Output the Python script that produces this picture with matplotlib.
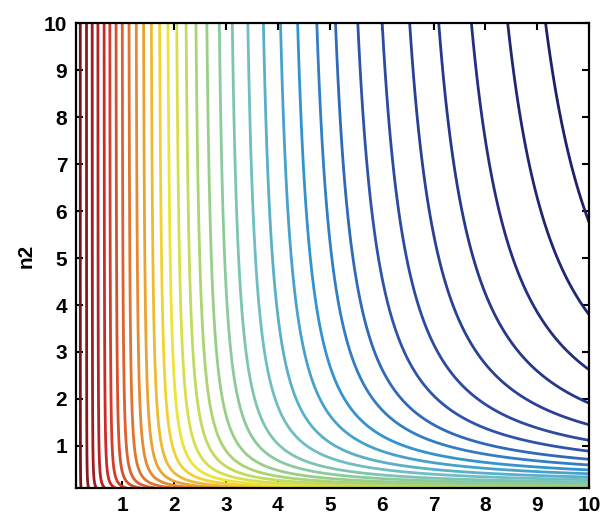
import numpy as np
import matplotlib
matplotlib.use("Agg")
import matplotlib.pyplot as plt
from matplotlib.colors import LinearSegmentedColormap

# ---- data ----
n1_range = [0.1, 10.0]
n2_range = [0.1, 10.0]
# n1 position where each contour line meets the top edge (n2 = 10)
top_positions = [0.19, 0.31, 0.42, 0.53, 0.65, 0.76, 0.88, 1.00, 1.13, 1.27,
                 1.41, 1.56, 1.72, 1.88, 2.05, 2.23, 2.42, 2.63, 2.87, 3.12,
                 3.42, 3.72, 4.05, 4.38, 4.75, 5.11, 5.54, 6.01, 6.54, 7.10,
                 7.73, 8.43, 9.16]
b_coef = 10.58
p_exp = 0.64
xticks = [1, 2, 3, 4, 5, 6, 7, 8, 9, 10]
yticks = [1, 2, 3, 4, 5, 6, 7, 8, 9, 10]
ylabel = "n2"

# colour ramp (muted jet, from first/left line to last/right line)
anchors = [(0.0, (0.45, 0.08, 0.10)),
           (0.12, (0.80, 0.15, 0.15)),
           (0.27, (0.90, 0.50, 0.20)),
           (0.40, (0.95, 0.90, 0.20)),
           (0.52, (0.62, 0.82, 0.50)),
           (0.62, (0.45, 0.76, 0.76)),
           (0.72, (0.20, 0.58, 0.82)),
           (0.82, (0.18, 0.32, 0.66)),
           (1.0, (0.12, 0.12, 0.42))]
cmap = LinearSegmentedColormap.from_list("mjet", anchors)
line_colors = [cmap(i / (len(top_positions) - 1)) for i in range(len(top_positions))]


def surface(a, b):
    return 1.0 / (1.0 / a + 1.0 / (b_coef * np.power(b, p_exp)))


n1 = np.linspace(n1_range[0], n1_range[1], 800)
n2 = np.linspace(n2_range[0], n2_range[1], 800)
N1, N2 = np.meshgrid(n1, n2)
Z = surface(N1, N2)
levels = [surface(x, n2_range[1]) for x in top_positions]

plt.rcParams['font.family'] = ['Liberation Sans', 'DejaVu Sans']
fig = plt.figure(figsize=(6.0, 5.22), dpi=100)
ax = fig.add_axes([0.126, 0.065, 0.856, 0.890])
ax.contour(N1, N2, Z, levels=levels, colors=line_colors, linewidths=2.0)

ax.set_xlim(n1_range)
ax.set_ylim(n2_range)
ax.set_xticks(xticks)
ax.set_yticks(yticks)
ax.set_xticklabels([str(t) for t in xticks], fontsize=15, fontweight='bold')
ax.set_yticklabels([str(t) for t in yticks], fontsize=15, fontweight='bold')
ax.tick_params(direction='in', length=5, width=1.5, top=True, right=True, pad=6)
for s in ax.spines.values():
    s.set_linewidth(1.6)
ax.set_ylabel(ylabel, fontsize=15, fontweight='bold', labelpad=6)

fig.savefig("out.png", dpi=100)
